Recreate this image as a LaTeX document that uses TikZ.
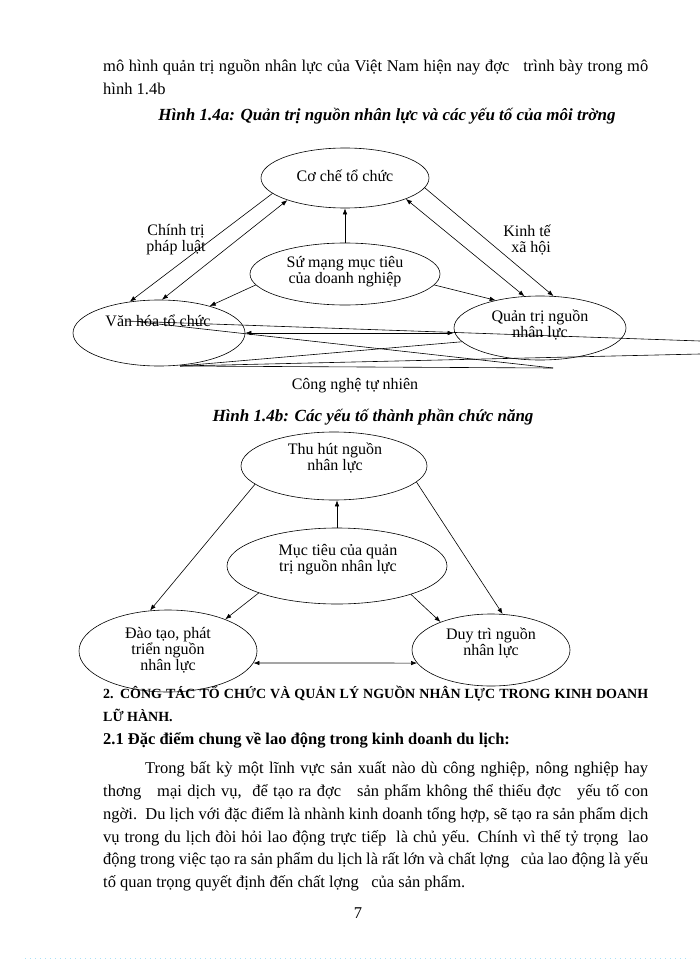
\documentclass[tikz,border=0pt]{standalone}
\usepackage{fontspec}
\setmainfont{Liberation Serif}
\usetikzlibrary{arrows.meta,shapes.geometric}
\newcommand\dgfont{\fontsize{16}{16}\selectfont}
\newcommand\bodyfont{\fontsize{16.5}{24}\selectfont}
\tikzset{
  ell/.style args={#1/#2}{draw, ellipse, line width=0.6pt, minimum width=#1, minimum height=#2, inner sep=0pt},
  dtxt/.style={font=\dgfont, align=center, inner sep=0pt},
  btxt/.style={font=\bodyfont, anchor=base west, inner sep=0pt},
  captxt/.style={font=\fontsize{17}{20}\selectfont\bfseries\itshape, anchor=base, inner sep=0pt},
  headtxt/.style={font=\fontsize{14}{16}\selectfont\bfseries, anchor=base west, inner sep=0pt},
  arr/.style={line width=0.6pt, -{Latex[length=6pt,width=4.5pt]}},
  dbl/.style={line width=0.6pt, {Latex[length=6pt,width=4.5pt]}-{Latex[length=6pt,width=4.5pt]}},
  ln/.style={line width=0.6pt}
}
\begin{document}
\begin{tikzpicture}[x=1pt,y=-1pt]
\fill[white] (0,0) rectangle (700,960);
\useasboundingbox (0,0) rectangle (700,960);

% body text top
\node[btxt] (t1) at (103,72) {\makebox[545pt][s]{mô hình quản trị nguồn nhân lực của Việt Nam hiện nay đợc\ \ \ trình bày trong mô}};
\node[btxt] (t2) at (103,95) {hình 1.4b};
\node[captxt] (capa) at (387,121) {Hình 1.4a: Quản trị nguồn nhân lực và các yếu tố của môi trờng};

% diagram 1
\node[ell={168pt}/{60pt}] (cc) at (345,178) {};
\node[dtxt] (cct) at (345,176) {Cơ chế tổ chức};
\node[ell={190pt}/{62pt}] (sm) at (345,274) {};
\node[dtxt] (smt) at (345,272) {Sứ mạng mục tiêu\\của doanh nghiệp};
\node[ell={172pt}/{66pt}] (vh) at (159,333) {};
\node[dtxt] (vht) at (158,321) {Văn hóa tổ chức};
\node[ell={172pt}/{64pt}] (qt) at (540,328) {};
\node[dtxt] (qtt) at (540,325) {Quản trị nguồn\\nhân lực};
\node[dtxt] (lab1) at (176,240) {Chính trị\\pháp luật};
\node[dtxt, align=right, anchor=east] (lab2) at (551,240) {Kinh tế\\xã hội};
\node[dtxt] (lab3) at (355,386) {Công nghệ tự nhiên};

\draw[arr] (sm.north) -- (cc.south);
\draw[arr] (cc.192) -- (vh.133);
\draw[dbl] (vh.85) -- (cc.201);
\draw[arr] (sm.187) -- (vh.28);
\draw[arr] (cc.353) -- (qt.67);
\draw[dbl] (qt.116) -- (cc.341);
\draw[arr] (sm.353) -- (qt.148);

% tangled lines
\coordinate (a1) at (125,321);
\coordinate (a2) at (700,341);
\coordinate (b1) at (140,322);
\coordinate (b2) at (553,368);
\coordinate (p) at (180,366);
\coordinate (c2) at (700,354);
\draw[ln] (a1) -- (a2);
\draw[ln] (b1) -- (b2);
\draw[dbl] (vh.east) -- (qt.west |- vh.east);
\draw[ln] (p) -- (qt.190);
\draw[ln] (p) -- (c2);
\draw[ln] (p) -- (b2);

% caption b
\node[captxt] (capb) at (373,421) {Hình 1.4b: Các yếu tố thành phần chức năng};

% diagram 2
\node[ell={186pt}/{68pt}] (th) at (334,466) {};
\node[dtxt] (tht) at (335,458) {Thu hút nguồn\\nhân lực};
\node[ell={220pt}/{76pt}] (mt) at (337,566) {};
\node[dtxt] (mtt) at (338,560) {Mục tiêu của quản\\trị nguồn nhân lực};
\node[ell={178pt}/{82pt}] (dt) at (168,651) {};
\node[dtxt] (dtt) at (168,650) {Đào tạo, phát\\triển nguồn\\nhân lực};
\node[ell={158pt}/{72pt}] (dy) at (491,650) {};
\node[dtxt] (dyt) at (491,643) {Duy trì nguồn\\nhân lực};

\draw[arr] (mt.north) -- (th.south -| mt.north);
\draw[arr] (th.193) -- (dt.114);
\draw[arr] (th.349) -- (dy.72);
\draw[arr] (mt.199) -- (dt.29);
\draw[arr] (mt.339) -- (dy.151);
\draw[dbl] (dt.-8) -- (dy.190);

% lower text
\node[headtxt] (h1) at (103,698) {\makebox[545pt][s]{2. CÔNG TÁC TỔ CHỨC VÀ QUẢN LÝ NGUỒN NHÂN LỰC TRONG KINH DOANH}};
\node[headtxt] (h2) at (103,721) {LỮ HÀNH.};
\node[font=\fontsize{16.5}{20}\selectfont\bfseries, anchor=base west, inner sep=0pt] (h3) at (103,744) {2.1 Đặc điểm chung về lao động trong kinh doanh du lịch:};

\node[btxt] (p1) at (145,773) {\makebox[503pt][s]{Trong bất kỳ một lĩnh vực sản xuất nào dù công nghiệp, nông nghiệp hay}};
\node[btxt] (p2) at (103,796) {\makebox[545pt][s]{thơng\ \ \ mại dịch vụ,\ \ để tạo ra đợc\ \ \ sản phẩm không thể thiếu đợc\ \ \ yếu tố con}};
\node[btxt] (p3) at (103,819) {\makebox[545pt][s]{ngời.\ \ Du lịch với đặc điểm là nhành kinh doanh tổng hợp, sẽ tạo ra sản phẩm dịch}};
\node[btxt] (p4) at (103,842) {\makebox[545pt][s]{vụ trong du lịch đòi hỏi lao động trực tiếp\ \ là chủ yếu. Chính vì thế tỷ trọng\ \ lao}};
\node[btxt] (p5) at (103,864) {\makebox[545pt][s]{động trong việc tạo ra sản phẩm du lịch là rất lớn và chất lợng\ \ \ của lao động là yếu}};
\node[btxt] (p6) at (103,887) {tố quan trọng quyết định đến chất lợng\ \ \ của sản phẩm.};
\node[font=\bodyfont, anchor=base, inner sep=0pt] (pg) at (358,918) {7};

\coordinate (dl) at (25,958);
\coordinate (dr) at (690,958);
\draw[cyan!35, line width=1pt, dash pattern=on 1pt off 4pt] (dl) -- (dr);
\end{tikzpicture}
\end{document}
